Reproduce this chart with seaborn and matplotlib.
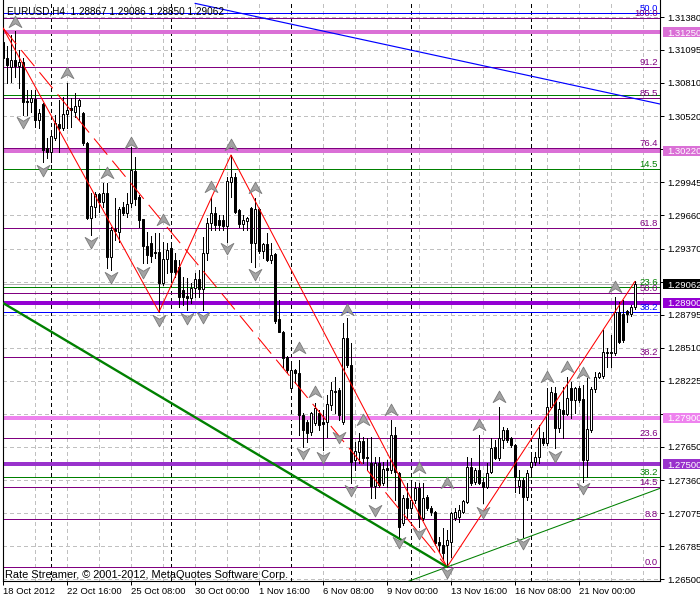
import numpy as np
import pandas as pd
import matplotlib
matplotlib.use("Agg")
import matplotlib.pyplot as plt
from matplotlib.path import Path
from matplotlib.patches import Rectangle
import seaborn as sns

# ---------------- data ----------------
symbol_title = "EURUSD,H4  1.28867 1.29086 1.28850 1.29062"
footer = "Rate Streamer, © 2001-2012, MetaQuotes Software Corp."
first_bar_time = "2012-10-18 00:00"

opens = [1.31163, 1.31025, 1.30946, 1.31007, 1.30955, 1.30990, 1.30651, 1.30643, 1.30669, 1.30486,
         1.30625, 1.30243, 1.30209, 1.30330, 1.30452, 1.30417, 1.30539, 1.30591, 1.30556, 1.30608,
         1.30547, 1.30287, 1.29640, 1.29731, 1.29844, 1.29775, 1.29853, 1.29297, 1.29540, 1.29514,
         1.29731, 1.29679, 1.29766, 1.30044, 1.29818, 1.29627, 1.29393, 1.29419, 1.29341, 1.29341,
         1.29072, 1.29280, 1.29375, 1.29271, 1.29210, 1.29011, 1.28959, 1.28941, 1.29028, 1.29106,
         1.29020, 1.29332, 1.29592, 1.29679, 1.29618, 1.29618, 1.29566, 1.29948, 1.29992, 1.29705,
         1.29584, 1.29610, 1.29723, 1.29419, 1.29714, 1.29349, 1.29410, 1.29271, 1.29323, 1.28759,
         1.28650, 1.28429, 1.28160, 1.28316, 1.28290, 1.27926, 1.27865, 1.27778, 1.27856, 1.27943,
         1.27865, 1.27865, 1.28013, 1.28125, 1.28143, 1.27865, 1.28594, 1.28360, 1.27535, 1.27605,
         1.27700, 1.27561, 1.27509, 1.27310, 1.27509, 1.27336, 1.27466, 1.27448, 1.27752, 1.27422,
         1.26988, 1.27205, 1.27119, 1.27188, 1.27292, 1.27032, 1.27214, 1.27119, 1.27084, 1.26823,
         1.26797, 1.26797, 1.26823, 1.27032, 1.27040, 1.27084, 1.27171, 1.27474, 1.27344, 1.27448,
         1.27344, 1.27301, 1.27431, 1.27648, 1.27553, 1.27709, 1.27796, 1.27726, 1.27665, 1.27310,
         1.27362, 1.27214, 1.27474, 1.27518, 1.27561, 1.27726, 1.27683, 1.27995, 1.28117, 1.27813,
         1.27969, 1.27935, 1.28160, 1.28056, 1.28160, 1.28065, 1.27535, 1.27796, 1.28151, 1.28256,
         1.28264, 1.28464, 1.28473, 1.28464, 1.28820, 1.28802, 1.28828, 1.28802, 1.28867]
highs = [1.31285, 1.31129, 1.31224, 1.31259, 1.31094, 1.31025, 1.30747, 1.30747, 1.30747, 1.30582,
         1.30630, 1.30330, 1.30374, 1.30530, 1.30660, 1.30686, 1.30808, 1.30677, 1.30721, 1.30669,
         1.30556, 1.30295, 1.29853, 1.29861, 1.29853, 1.29940, 1.29940, 1.29558, 1.29809, 1.29731,
         1.29775, 1.29853, 1.30252, 1.30165, 1.29835, 1.29630, 1.29514, 1.29480, 1.29506, 1.29506,
         1.29427, 1.29419, 1.29419, 1.29332, 1.29271, 1.29124, 1.29115, 1.29072, 1.29158, 1.29184,
         1.29471, 1.29636, 1.29818, 1.29731, 1.29662, 1.29662, 1.29992, 1.30183, 1.30026, 1.29710,
         1.29662, 1.29644, 1.29731, 1.29809, 1.29723, 1.29419, 1.29506, 1.29419, 1.29330, 1.28924,
         1.28655, 1.28435, 1.28377, 1.28326, 1.28403, 1.27940, 1.27880, 1.27952, 1.28030, 1.27969,
         1.27969, 1.28099, 1.28212, 1.28256, 1.28160, 1.28724, 1.28768, 1.28551, 1.27691, 1.27770,
         1.27735, 1.27726, 1.27735, 1.27561, 1.27561, 1.27518, 1.27535, 1.27882, 1.27822, 1.27431,
         1.27231, 1.27336, 1.27344, 1.27344, 1.27336, 1.27336, 1.27231, 1.27136, 1.27093, 1.26867,
         1.26945, 1.26928, 1.27084, 1.27119, 1.27145, 1.27188, 1.27561, 1.27553, 1.27466, 1.27752,
         1.27379, 1.27509, 1.27726, 1.27709, 1.27995, 1.27822, 1.27813, 1.27735, 1.27674, 1.27448,
         1.27379, 1.27448, 1.27605, 1.27605, 1.27839, 1.27778, 1.28160, 1.28169, 1.28169, 1.28039,
         1.28169, 1.28256, 1.28212, 1.28169, 1.28177, 1.28186, 1.28247, 1.28169, 1.28299, 1.28299,
         1.28664, 1.28507, 1.28620, 1.28950, 1.28907, 1.28924, 1.28837, 1.28881, 1.29086]
lows = [1.31007, 1.30808, 1.30816, 1.30860, 1.30764, 1.30530, 1.30530, 1.30556, 1.30426, 1.30417,
        1.30122, 1.30157, 1.30122, 1.30313, 1.30209, 1.30400, 1.30417, 1.30426, 1.30512, 1.30486,
        1.30269, 1.29630, 1.29488, 1.29644, 1.29688, 1.29731, 1.29202, 1.29184, 1.29445, 1.29427,
        1.29662, 1.29644, 1.29731, 1.29749, 1.29558, 1.29245, 1.29245, 1.29254, 1.29289, 1.28820,
        1.29054, 1.29158, 1.29080, 1.29124, 1.28863, 1.28881, 1.28837, 1.28898, 1.28950, 1.28950,
        1.28837, 1.29271, 1.29532, 1.29532, 1.29532, 1.29532, 1.29427, 1.29818, 1.29679, 1.29558,
        1.29532, 1.29532, 1.29254, 1.29210, 1.29332, 1.29289, 1.29263, 1.29245, 1.28724, 1.28646,
        1.28342, 1.28290, 1.28143, 1.28204, 1.27752, 1.27648, 1.27691, 1.27752, 1.27839, 1.27796,
        1.27622, 1.27735, 1.27969, 1.27943, 1.27882, 1.27848, 1.28342, 1.27336, 1.27448, 1.27509,
        1.27509, 1.27448, 1.27205, 1.27205, 1.27301, 1.27318, 1.27301, 1.27422, 1.27188, 1.26867,
        1.26971, 1.27032, 1.27075, 1.27162, 1.26954, 1.27014, 1.27101, 1.27058, 1.26797, 1.26737,
        1.26667, 1.26606, 1.26693, 1.27014, 1.26997, 1.27075, 1.27162, 1.27318, 1.27327, 1.27327,
        1.27162, 1.27292, 1.27422, 1.27544, 1.27535, 1.27639, 1.27691, 1.27648, 1.27257, 1.27249,
        1.26867, 1.27188, 1.27388, 1.27492, 1.27509, 1.27665, 1.27665, 1.27987, 1.27639, 1.27778,
        1.27726, 1.27926, 1.27900, 1.27943, 1.28039, 1.27344, 1.27388, 1.27778, 1.28125, 1.28247,
        1.28247, 1.28342, 1.28342, 1.28447, 1.28551, 1.28559, 1.28733, 1.28785, 1.28850]
closes = [1.31025, 1.30964, 1.31007, 1.30955, 1.30990, 1.30643, 1.30643, 1.30677, 1.30486, 1.30547,
          1.30226, 1.30209, 1.30348, 1.30460, 1.30417, 1.30539, 1.30573, 1.30573, 1.30608, 1.30660,
          1.30287, 1.29640, 1.29740, 1.29844, 1.29775, 1.29853, 1.29297, 1.29532, 1.29523, 1.29714,
          1.29679, 1.29757, 1.30052, 1.29801, 1.29618, 1.29393, 1.29315, 1.29306, 1.29332, 1.29072,
          1.29280, 1.29358, 1.29167, 1.29167, 1.28950, 1.28950, 1.28941, 1.29028, 1.29106, 1.29020,
          1.29332, 1.29592, 1.29679, 1.29575, 1.29575, 1.29566, 1.29957, 1.29992, 1.29688, 1.29584,
          1.29618, 1.29636, 1.29419, 1.29714, 1.29349, 1.29410, 1.29271, 1.29315, 1.28742, 1.28650,
          1.28421, 1.28316, 1.28316, 1.28290, 1.27926, 1.27796, 1.27770, 1.27943, 1.27987, 1.27839,
          1.27848, 1.28021, 1.28143, 1.28134, 1.27926, 1.28594, 1.28360, 1.27518, 1.27613, 1.27700,
          1.27553, 1.27553, 1.27310, 1.27509, 1.27318, 1.27457, 1.27448, 1.27752, 1.27431, 1.26954,
          1.27205, 1.27119, 1.27188, 1.27292, 1.27032, 1.27205, 1.27119, 1.27084, 1.26815, 1.26797,
          1.26728, 1.26841, 1.27075, 1.27084, 1.27101, 1.27179, 1.27474, 1.27336, 1.27448, 1.27336,
          1.27301, 1.27422, 1.27639, 1.27553, 1.27726, 1.27796, 1.27709, 1.27665, 1.27388, 1.27362,
          1.27214, 1.27422, 1.27518, 1.27561, 1.27726, 1.27683, 1.27995, 1.28125, 1.27813, 1.27978,
          1.27935, 1.28073, 1.28056, 1.28160, 1.28056, 1.27535, 1.27804, 1.28151, 1.28256, 1.28290,
          1.28473, 1.28473, 1.28464, 1.28820, 1.28559, 1.28577, 1.28802, 1.28863, 1.29062]

zigzag_bars = [0, 39, 57, 111, 158]
zigzag_side = ["high", "low", "high", "low", "high"]
channel_bars = [0, 111]

fib_levels = [0.0, 8.8, 14.5, 23.6, 38.2, 50.0, 61.8, 76.4, 85.5, 91.2, 100.0]
fib_purple_range = [1.26606, 1.31369]
fib_green_range = [1.31696, 1.20416]
fib_blue_range = [1.20413, 1.42413]
green_label_levels = [14.5, 23.6, 38.2]

hline_prices = [1.31250, 1.30220, 1.28900, 1.27900, 1.27500]
hline_colors = ["#DA70D6", "#DA70D6", "#9400D3", "#EE82EE", "#9932CC"]

green_thick_bars = [0, 111]
green_thick_prices = [1.28898, 1.26606]
green_thin_bars = [111, 158]
green_thin_prices = [1.26606, 1.27209]
blue_ray_bars = [48, 164]
blue_ray_prices = [1.31499, 1.30627]

fractal_up_bars = [3, 16, 26, 32, 40, 52, 57, 63, 74, 78, 86, 90, 97, 104, 111, 119, 124,
                   136, 141, 145, 153]
fractal_up_prices = [1.31337, 1.30894, 1.30026, 1.30287, 1.29618, 1.29905, 1.30269, 1.29896,
                     1.28507, 1.28125, 1.28837, 1.27882, 1.27969, 1.27466, 1.27336, 1.27839,
                     1.28082, 1.28256, 1.28342, 1.28290, 1.29037]
fractal_dn_bars = [5, 10, 22, 27, 35, 39, 46, 50, 56, 63, 75, 80, 84, 87, 93, 99, 104, 111,
                   120, 130, 138, 145]
fractal_dn_prices = [1.30469, 1.30052, 1.29427, 1.29124, 1.29167, 1.28750, 1.28768, 1.28776,
                     1.29375, 1.29150, 1.27596, 1.27561, 1.27735, 1.27275, 1.27101, 1.26823,
                     1.26902, 1.26563, 1.27084, 1.26815, 1.27570, 1.27292]

# grid levels of the price scale; the ones hidden behind price boxes carry no label
price_ticks = [1.31380, 1.31095, 1.30810, 1.30520, 1.30235, 1.29945, 1.29660, 1.29370,
               1.29080, 1.28795, 1.28510, 1.28225, 1.27935, 1.27650, 1.27360, 1.27075,
               1.26785, 1.26500]
hidden_tick_labels = [1.30235, 1.29080, 1.27935]

# ---------------- figure ----------------
sns.set_style("white")
plt.rcParams["font.family"] = ["Liberation Sans", "DejaVu Sans"]
FS = 6.8

n = len(opens)
o, h, l, c = map(np.array, (opens, highs, lows, closes))
times = pd.date_range(first_bar_time, periods=n * 2, freq="4h")
times = times[times.dayofweek < 5][:n]
bars = np.arange(n)

W, H = 700, 600
Lp, Rp, Tp, Bp = 2.5, 660, 0, 581
fig = plt.figure(figsize=(W / 100, H / 100), dpi=100)
fig.patch.set_facecolor("white")
ax = fig.add_axes([Lp / W, (H - Bp) / H, (Rp - Lp) / W, (Bp - Tp) / H])
ax.set_facecolor("white")
xmin = -0.125
xmax = xmin + (Rp - Lp) / 4.0
ymin, ymax = 1.26485, 1.31528
ax.set_xlim(xmin, xmax)
ax.set_ylim(ymin, ymax)
px = (ymax - ymin) / (Bp - Tp)
THIN = 0.6
DIAG = 0.75

# grid
for p in price_ticks:
    ax.axhline(p, color="#C0C0C0", lw=THIN, ls=(0, (4.8, 3.6)), zorder=0.5, antialiased=False)
for b in np.arange(8, xmax, 8):
    ax.axvline(b, color="#C0C0C0", lw=THIN, ls=(0, (4.8, 3.6)), zorder=0.5, antialiased=False)
mondays = [i for i, t in enumerate(times) if t.dayofweek == 0 and t.hour == 0]
for b in mondays:
    ax.axvline(b, color="black", lw=THIN, ls=(0, (3.6, 3.6)), zorder=0.6, antialiased=False)

# fibonacci levels
ytr = ax.get_yaxis_transform()


def draw_fib(rng, color, label_levels=None):
    lo, hi = rng
    for lev in fib_levels:
        p = lo + (hi - lo) * lev / 100.0
        if ymin <= p <= ymax:
            ax.axhline(p, color=color, lw=THIN, zorder=1, antialiased=False)
            if label_levels is None or lev in label_levels:
                ax.annotate(f"{lev:.1f}", xy=(1, p), xycoords=ytr, xytext=(-2, 2),
                            textcoords="offset pixels", ha="right", va="baseline",
                            color=color, fontsize=FS, zorder=5, annotation_clip=False)


draw_fib(fib_green_range, "#008000", green_label_levels)
draw_fib(fib_blue_range, "#0000FF")
draw_fib(fib_purple_range, "#800080")

# price alert lines and bid line
for p, col in zip(hline_prices, hline_colors):
    ax.axhline(p, color=col, lw=1.45, zorder=1.2, antialiased=False)
ax.axhline(c[-1], color="#B0B0B0", lw=THIN, zorder=1.1, antialiased=False)

# candles
bull = c >= o
ax.vlines(bars, l, h, color="black", lw=THIN, zorder=2, antialiased=False)
body_lo = np.minimum(o, c)
body_h = np.maximum(np.abs(c - o), 0.00003)
ax.bar(bars, body_h, bottom=body_lo, width=0.5,
       color=np.where(bull, "white", "black"), edgecolor="black", linewidth=0.72, zorder=2.1)

# zigzag and channel
zz_prices = [h[b] if s == "high" else l[b] for b, s in zip(zigzag_bars, zigzag_side)]
sns.lineplot(x=zigzag_bars, y=zz_prices, sort=False, estimator=None, color="#FF0000",
             lw=DIAG, ax=ax, zorder=3)
ax.plot(channel_bars, [h[channel_bars[0]], l[channel_bars[1]]], color="#FF0000", lw=DIAG,
        ls=(0, (20, 7.5)), zorder=3)


def extend(bx, py, x0, x1):
    k = (py[1] - py[0]) / (bx[1] - bx[0])
    return [x0, x1], [py[0] + k * (x0 - bx[0]), py[0] + k * (x1 - bx[0])]


ax.plot(green_thick_bars, green_thick_prices, color="#008000", lw=1.7, zorder=3,
        solid_capstyle="butt")
gx, gy = extend(green_thin_bars, green_thin_prices, 95, xmax + 2)
ax.plot(gx, gy, color="#008000", lw=DIAG, zorder=3)
bx, by = extend(blue_ray_bars, blue_ray_prices, blue_ray_bars[0], xmax + 2)
ax.plot(bx, by, color="#0000FF", lw=DIAG + 0.1, zorder=3)

# fractals (chevron arrow heads)
up_path = Path([(0, 1), (1, -0.8), (0, -0.2), (-1, -0.8), (0, 1)],
               [Path.MOVETO, Path.LINETO, Path.LINETO, Path.LINETO, Path.CLOSEPOLY])
dn_path = Path([(x, -y) for x, y in up_path.vertices], up_path.codes)
sns.scatterplot(x=fractal_up_bars, y=fractal_up_prices, marker=up_path, s=85,
                color="#a3a3a3", edgecolor="#7a7a7a", linewidth=0.6, ax=ax, zorder=4)
sns.scatterplot(x=fractal_dn_bars, y=fractal_dn_prices, marker=dn_path, s=85,
                color="#a3a3a3", edgecolor="#7a7a7a", linewidth=0.6, ax=ax, zorder=4)

# axes / ticks
for side in ["left", "bottom", "right"]:
    ax.spines[side].set_visible(True)
    ax.spines[side].set_color("black")
    ax.spines[side].set_linewidth(0.8)
ax.spines["top"].set_visible(False)
ax.yaxis.tick_right()
ax.set_yticks(price_ticks)
ax.set_yticklabels(["" if p in hidden_tick_labels else f"{p:.5f}" for p in price_ticks])
ax.tick_params(axis="y", right=True, left=False, length=2.9, width=0.72, pad=2,
               labelsize=FS, colors="black", direction="out")
tick_bars = list(range(0, n, 16))
tick_labels = [f"{times[b].day} {times[b]:%b %Y}" if i == 0 else f"{times[b].day} {times[b]:%b %H:%M}"
               for i, b in enumerate(tick_bars)]
ax.set_xticks(tick_bars)
ax.set_xticklabels(tick_labels, ha="left")
ax.tick_params(axis="x", bottom=True, length=2.9, width=0.72, pad=1.2, labelsize=FS,
               colors="black", direction="out")
ax.set_xlabel("")
ax.set_ylabel("")
if ax.get_legend() is not None:
    ax.get_legend().remove()

# right-side price boxes
box_x0 = (663 - Lp) / (Rp - Lp)


def price_box(p, fc):
    ax.add_patch(Rectangle((box_x0, p - 5 * px), 0.1, 10 * px, transform=ytr, clip_on=False,
                           facecolor=fc, edgecolor="none", zorder=9))
    ax.annotate(f"{p:.5f}", xy=(1, p), xycoords=ytr, xytext=(7, 0), textcoords="offset pixels",
                ha="left", va="center_baseline", color="white", fontsize=FS, zorder=10,
                annotation_clip=False)


for p, col in zip(hline_prices, hline_colors):
    price_box(p, col)
price_box(c[-1], "black")

# texts
fig.text(7 / W, 1 - 14 / H, symbol_title, fontsize=7.2, color="black", va="baseline", ha="left")
fig.text(5 / W, 1 - 578.5 / H, footer, fontsize=7.9, color="black", va="baseline", ha="left")

fig.savefig("out.png", dpi=100)
